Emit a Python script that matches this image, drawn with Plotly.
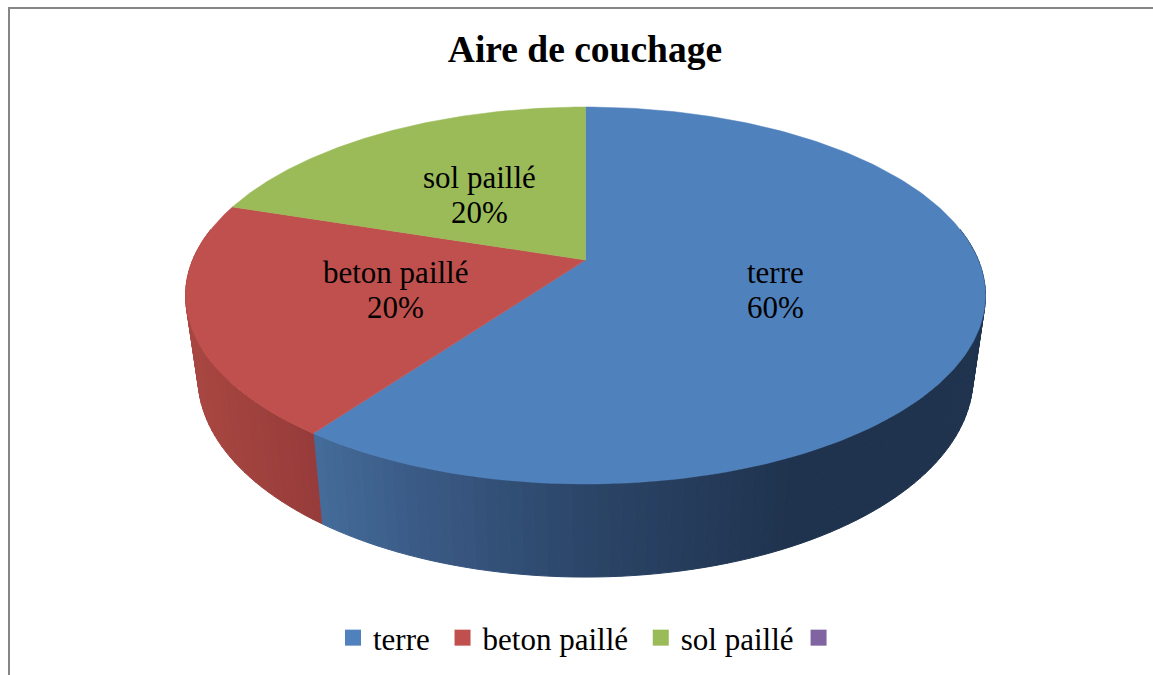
"""
Aire de couchage - 3D looking pie, drawn as filled scatter polygons
because plotly has no perspective pie.
"""
import numpy as np
import plotly.graph_objects as go

# ── DATA ──
categories = ["terre", "beton paillé", "sol paillé", " "]
shares = [60, 20, 20, 0]
label_names = ["terre", "beton paillé", "sol paillé"]
label_pcts = ["60%", "20%", "20%"]

COLORS = ["#4F81BD", "#C0504D", "#9BBB59", "#8064A2"]
# side wall shading, stops along screen x
SIDE_X = {0: [321, 420, 585, 800], 1: [197, 320]}
SIDE_RGB = {
    0: [(68, 107, 153), (58, 90, 133), (44, 70, 105), (31, 51, 78)],
    1: [(168, 70, 65), (150, 60, 58)],
}
FONT = "Liberation Serif"

# perspective of the disc on screen
CX, K = 585.5, 0.1883
TOP = dict(a=260.0, b=-132.85, c=392.8)
BOTTOM = dict(a=339.7, b=-128.7, c=380.6)


def project(theta_deg, disc):
    """Clockwise angle from 12 o'clock -> screen position on the given rim."""
    t = np.radians(theta_deg)
    w = 1 + K * np.cos(t)
    return CX + disc["c"] * np.sin(t) / w, (disc["a"] + disc["b"] * np.cos(t)) / w


def side_color(i, x):
    rgb = [np.interp(x, SIDE_X[i], [s[n] for s in SIDE_RGB[i]]) for n in range(3)]
    return "rgb(%d,%d,%d)" % tuple(rgb)


edges = np.cumsum([0] + shares) * 3.6

fig = go.Figure()

# ── SIDE WALL ──
for i in range(2):
    lo = max(edges[i], 80)
    hi = min(edges[i + 1], 280)
    steps = np.linspace(lo, hi, int((hi - lo) / 1.5) + 2)
    for t0, t1 in zip(steps[:-1], steps[1:]):
        x0, y0 = project(t0, TOP)
        x1, y1 = project(t1, TOP)
        x2, y2 = project(t1, BOTTOM)
        x3, y3 = project(t0, BOTTOM)
        col = side_color(i, (x0 + x1) / 2)
        fig.add_trace(go.Scatter(
            x=[x0, x1, x2, x3, x0], y=[y0, y1, y2, y3, y0],
            mode="lines", fill="toself", fillcolor=col,
            line=dict(color=col, width=1),
            showlegend=False, hoverinfo="skip",
        ))

# ── TOP FACE ──
for i, name in enumerate(categories):
    if shares[i] == 0:
        continue
    arc = np.linspace(edges[i], edges[i + 1], 200)
    ax, ay = project(arc, TOP)
    cx, cy = CX, TOP["a"]
    fig.add_trace(go.Scatter(
        x=np.r_[cx, ax, cx], y=np.r_[cy, ay, cy],
        mode="lines", fill="toself", fillcolor=COLORS[i],
        line=dict(color=COLORS[i], width=0.5),
        showlegend=False, hoverinfo="skip",
    ))

# ── LEGEND ──
# the trailing nbsp on the first two only widens the gap between entries
for i, name in enumerate(categories):
    fig.add_trace(go.Scatter(
        x=[None], y=[None], mode="markers",
        name=name + "\u00a0" if i < 2 else name,
        marker=dict(symbol="square", size=16, color=COLORS[i]),
    ))

# ── LABELS ──
for name, pct, x, y in zip(label_names, label_pcts, [775, 395, 479], [272, 272, 177]):
    for text, yy in ((name, y), (pct, y + 35)):
        fig.add_annotation(x=x, y=yy, text=text, showarrow=False,
                           font=dict(family=FONT, size=31, color="#000000"))

fig.update_layout(
    width=1153, height=675,
    margin=dict(l=0, r=0, t=0, b=0),
    paper_bgcolor="white", plot_bgcolor="white",
    title=dict(text="<b>Aire de couchage</b>", x=585 / 1153, y=1 - 49 / 675,
               xanchor="center", yanchor="middle",
               font=dict(family=FONT, size=37.5, color="#000000")),
    legend=dict(orientation="h", x=333 / 1153, y=1 - 638 / 675,
                xanchor="left", yanchor="middle",
                font=dict(family=FONT, size=31, color="#000000")),
    shapes=[
        dict(type="line", x0=9, x1=9, y0=8, y1=675, line=dict(color="#868686", width=2)),
        dict(type="line", x0=8, x1=1153, y0=8, y1=8, line=dict(color="#868686", width=2)),
    ],
)
fig.update_xaxes(range=[0, 1153], visible=False, fixedrange=True)
fig.update_yaxes(range=[675, 0], visible=False, fixedrange=True)

fig.write_html("out.html", config=dict(displayModeBar=False),
               post_script="document.body.style.margin='0';document.body.style.overflow='hidden';")
